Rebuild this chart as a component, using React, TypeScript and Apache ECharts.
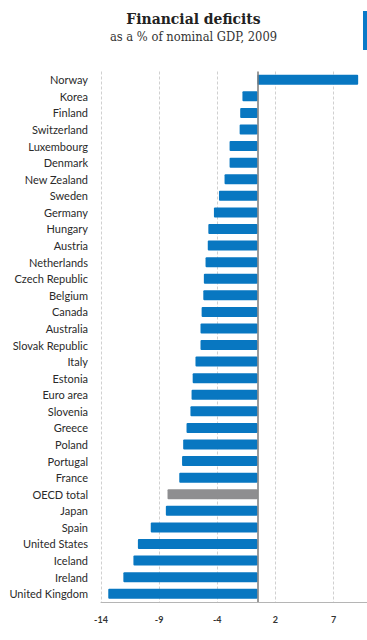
import React, { useEffect, useRef } from "react";
import * as echarts from "echarts";

const countries = [
  "Norway", "Korea", "Finland", "Switzerland", "Luxembourg", "Denmark", "New Zealand",
  "Sweden", "Germany", "Hungary", "Austria", "Netherlands", "Czech Republic", "Belgium",
  "Canada", "Australia", "Slovak Republic", "Italy", "Estonia", "Euro area", "Slovenia",
  "Greece", "Poland", "Portugal", "France", "OECD total", "Japan", "Spain",
  "United States", "Iceland", "Ireland", "United Kingdom",
];

const deficits = [
  9.0, -1.35, -1.55, -1.6, -2.5, -2.5, -2.95,
  -3.45, -3.9, -4.4, -4.45, -4.65, -4.8, -4.85,
  -5.0, -5.1, -5.1, -5.55, -5.8, -5.9, -6.0,
  -6.35, -6.65, -6.75, -7.0, -8.05, -8.2, -9.55,
  -10.7, -11.1, -12.0, -13.35,
];

const highlighted = ["OECD total"];

const axisMin = -14;
const axisMax = 12;
const tickStep = 5.2;

const BLUE = "#0877C1";
const GREY = "#8E8E90";

export default function App() {
  const ref = useRef<HTMLDivElement>(null);

  useEffect(() => {
    if (!ref.current) return;
    const chart = echarts.init(ref.current, undefined, { renderer: "svg" });
    chart.setOption({
      animation: false,
      backgroundColor: "#ffffff",
      graphic: [
        {
          type: "text",
          x: 193.5,
          y: 26.5,
          style: {
            text: "Financial deficits",
            fontFamily: "DejaVu Serif Condensed, DejaVu Serif",
            fontWeight: "bold",
            fontSize: 15.5,
            fill: "#222",
            textAlign: "center",
            textVerticalAlign: "bottom",
          },
        },
        {
          type: "text",
          x: 193.5,
          y: 42.5,
          style: {
            text: "as a % of nominal GDP, 2009",
            fontFamily: "DejaVu Serif Condensed, DejaVu Serif",
            fontSize: 12.8,
            fill: "#333",
            textAlign: "center",
            textVerticalAlign: "bottom",
          },
        },
        {
          type: "rect",
          shape: { x: 363, y: 11, width: 10, height: 39 },
          style: { fill: "#0A7AC8" },
        },
      ],
      grid: { left: 101, top: 71.5, width: 290.7, height: 530.5, containLabel: false },
      xAxis: [
        {
          type: "value",
          min: axisMin,
          max: axisMax,
          show: false,
          position: "bottom",
        },
        {
          type: "value",
          min: 0,
          max: axisMax - axisMin,
          interval: tickStep,
          position: "bottom",
          axisLine: { show: true, lineStyle: { color: "#b5b5b5", width: 1 } },
          axisTick: { show: false },
          axisLabel: {
            margin: 13,
            showMaxLabel: false,
            fontFamily: "Lato, sans-serif",
            fontWeight: "bold",
            fontSize: 9,
            color: "#333",
            formatter: (v: number) => String(Math.round(v + axisMin)),
          },
          splitLine: {
            show: true,
            lineStyle: { color: "#d0d0d0", type: [3, 2], width: 1 },
          },
        },
      ],
      yAxis: {
        type: "category",
        data: countries,
        inverse: true,
        axisLine: { show: false },
        axisTick: { show: false },
        axisLabel: {
          margin: 13,
          fontFamily: "Lato, sans-serif",
          fontSize: 11,
          color: "#2a2a2a",
        },
        splitLine: { show: false },
      },
      series: [
        {
          type: "bar",
          xAxisIndex: 0,
          barWidth: 10,
          data: countries.map((c, i) => ({
            value: deficits[i],
            itemStyle: {
              color: highlighted.includes(c) ? GREY : BLUE,
              borderRadius: 1,
            },
          })),
          markLine: {
            silent: true,
            symbol: "none",
            label: { show: false },
            lineStyle: { color: "#7a7a7a", width: 1.5, type: "solid" },
            data: [{ xAxis: 0 }],
          },
        },
      ],
    });
    return () => chart.dispose();
  }, []);

  return (
    <div
      style={{
        position: "fixed",
        left: 0,
        top: 0,
        width: 367,
        height: 640,
        overflow: "hidden",
        background: "#fff",
      }}
    >
      <div ref={ref} style={{ width: 400, height: 640 }} />
    </div>
  );
}
